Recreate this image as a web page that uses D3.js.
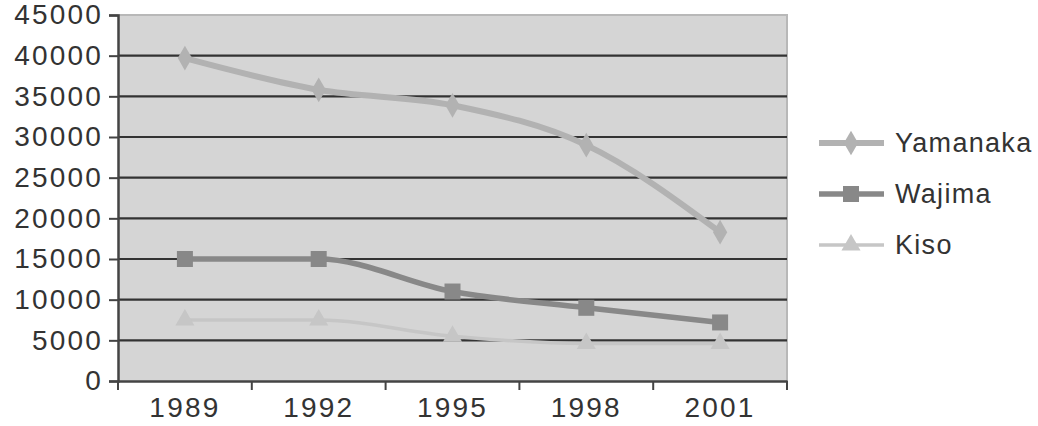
<!DOCTYPE html>
<html>
<head>
<meta charset="utf-8">
<script src="https://cdn.jsdelivr.net/npm/d3@7"></script>
<style>
  html, body { margin: 0; padding: 0; background: #fff; }
  svg text { font-family: "Liberation Sans", Arial, sans-serif; fill: #333; }
</style>
</head>
<body>
<svg id="svg" width="1038" height="426"></svg>
<script>
const years = ['1989', '1992', '1995', '1998', '2001'];
const yamanaka = [39700, 35800, 33900, 29000, 18300];
const wajima = [15000, 15000, 11000, 9000, 7200];
const kiso = [7500, 7500, 5500, 4600, 4600];
const yTicks = [0, 5000, 10000, 15000, 20000, 25000, 30000, 35000, 40000, 45000];

const seriesList = [
  { name: 'Yamanaka', values: yamanaka, color: '#b2b2b2', width: 6, marker: 'diamond', size: 14 },
  { name: 'Wajima', values: wajima, color: '#888888', width: 5.5, marker: 'square', size: 16 },
  { name: 'Kiso', values: kiso, color: '#c6c6c6', width: 3.5, marker: 'triangle', size: 15 },
];

const svg = d3.select('#svg');
const plot = { left: 118, right: 787, top: 15, bottom: 381 };

const x = d3.scaleBand().domain(years).range([plot.left, plot.right]);
const y = d3.scaleLinear().domain([0, 45000]).range([plot.bottom, plot.top]);

// plot background
svg.append('rect')
  .attr('x', plot.left).attr('y', plot.top)
  .attr('width', plot.right - plot.left).attr('height', plot.bottom - plot.top)
  .attr('fill', '#d5d5d5');

// top + right border
svg.append('path')
  .attr('d', `M${plot.left},${plot.top}H${plot.right}V${plot.bottom}`)
  .attr('fill', 'none').attr('stroke', '#b8b8b8').attr('stroke-width', 2);

// gridlines
svg.append('g').selectAll('line')
  .data(yTicks.filter(t => t > 0 && t < 45000))
  .join('line')
  .attr('x1', plot.left).attr('x2', plot.right)
  .attr('y1', d => y(d)).attr('y2', d => y(d))
  .attr('stroke', '#333').attr('stroke-width', 2.2);

// y axis
const yAxis = svg.append('g')
  .attr('transform', `translate(${plot.left},0)`)
  .call(d3.axisLeft(y).tickValues(yTicks).tickSize(9).tickPadding(8).tickFormat(d3.format('d')));
yAxis.select('.domain').attr('stroke', '#444').attr('stroke-width', 2.5);
yAxis.selectAll('.tick line').attr('stroke', '#444').attr('stroke-width', 2);
yAxis.selectAll('text').attr('font-size', 28).attr('letter-spacing', 2.2).attr('dx', 2).attr('fill', '#333');

// x axis
const xAxis = svg.append('g')
  .attr('transform', `translate(0,${plot.bottom})`)
  .call(d3.axisBottom(x).tickSize(0).tickPadding(16));
xAxis.select('.domain').attr('stroke', '#444').attr('stroke-width', 2.5);
xAxis.selectAll('text').attr('font-size', 28).attr('letter-spacing', 2.2).attr('fill', '#333');
xAxis.append('g').selectAll('line')
  .data(x.domain().map(d => x(d)).concat([plot.right]))
  .join('line')
  .attr('x1', d => d).attr('x2', d => d)
  .attr('y1', 0).attr('y2', 9)
  .attr('stroke', '#444').attr('stroke-width', 2);

const cx = d => x(d) + x.bandwidth() / 2;
const line = d3.line().curve(d3.curveMonotoneX);

function marker(sel, type, color, size) {
  if (type === 'square') {
    sel.append('rect').attr('x', -size / 2).attr('y', -size / 2)
      .attr('width', size).attr('height', size).attr('fill', color);
  } else if (type === 'diamond') {
    sel.append('path').attr('d', d3.symbol(d3.symbolDiamond, size * size * 0.9)())
      .attr('fill', color);
  } else {
    sel.append('path').attr('d', d3.symbol(d3.symbolTriangle, size * size * 0.7)())
      .attr('fill', color);
  }
}

seriesList.forEach(s => {
  const pts = years.map((yr, i) => [cx(yr), y(s.values[i])]);
  svg.append('path')
    .attr('d', line(pts))
    .attr('fill', 'none')
    .attr('stroke', s.color)
    .attr('stroke-width', s.width)
    .attr('stroke-linejoin', 'round');
  pts.forEach(p => {
    const g = svg.append('g').attr('transform', `translate(${p[0]},${p[1]})`);
    marker(g, s.marker, s.color, s.size);
  });
});

// legend
const legend = svg.append('g');
seriesList.forEach((s, i) => {
  const ly = 143 + i * 51;
  const g = legend.append('g').attr('transform', `translate(0,${ly})`);
  g.append('line').attr('x1', 819).attr('x2', 884).attr('y1', 0).attr('y2', 0)
    .attr('stroke', s.color).attr('stroke-width', s.width);
  const mg = g.append('g').attr('transform', 'translate(851,0)');
  marker(mg, s.marker, s.color, s.size);
  g.append('text').attr('x', 895).attr('y', 0).attr('dy', '0.35em')
    .attr('font-size', 27).attr('letter-spacing', 1.3).text(s.name);
});
</script>
</body>
</html>
